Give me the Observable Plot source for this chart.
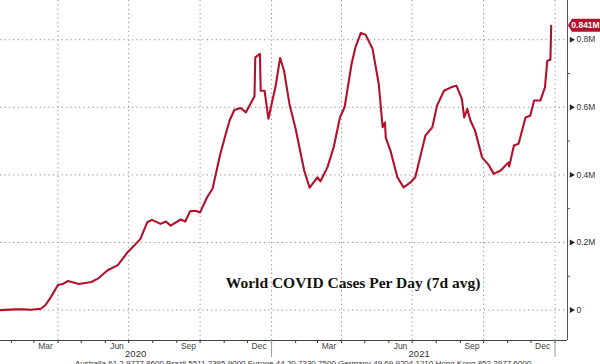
<!DOCTYPE html>
<html>
<head>
<meta charset="utf-8">
<script src="https://cdn.jsdelivr.net/npm/d3@7"></script>
<script src="https://cdn.jsdelivr.net/npm/@observablehq/plot@0.6"></script>
<style>
  html, body { margin: 0; padding: 0; background: #fff; overflow: hidden; }
  #chart { width: 600px; height: 364px; }
</style>
</head>
<body>
<div id="chart"></div>
<script>
// ---- data (millions of cases per day, 7-day average) ----
const dates = [
  "2020-01-18","2020-02-06","2020-02-17","2020-02-26","2020-03-10","2020-03-16","2020-03-23",
  "2020-04-01","2020-04-07","2020-04-14","2020-04-28","2020-05-14","2020-05-23","2020-06-04",
  "2020-06-17","2020-06-30","2020-07-16","2020-07-25","2020-07-31","2020-08-11","2020-08-18",
  "2020-08-24","2020-09-06","2020-09-12","2020-09-18","2020-09-25","2020-10-01","2020-10-10",
  "2020-10-17","2020-10-27","2020-11-03","2020-11-08","2020-11-14","2020-11-22","2020-11-29",
  "2020-12-03","2020-12-09","2020-12-10","2020-12-11","2020-12-17","2020-12-18","2020-12-23",
  "2020-12-28","2021-01-02","2021-01-06","2021-01-12","2021-01-17","2021-01-24","2021-02-01",
  "2021-02-12","2021-02-19","2021-03-01","2021-03-05","2021-03-14","2021-03-22","2021-03-30",
  "2021-04-05","2021-04-14","2021-04-19","2021-04-26","2021-05-02","2021-05-11","2021-05-19",
  "2021-05-24","2021-05-27","2021-05-28","2021-06-03","2021-06-12","2021-06-20","2021-06-29",
  "2021-07-05","2021-07-18","2021-07-27","2021-08-02","2021-08-11","2021-08-20","2021-08-27",
  "2021-09-03","2021-09-06","2021-09-10","2021-09-14","2021-09-20","2021-09-29","2021-10-08",
  "2021-10-14","2021-10-23","2021-11-02","2021-11-03","2021-11-09","2021-11-15","2021-11-24",
  "2021-11-30","2021-12-05","2021-12-13","2021-12-19","2021-12-22","2021-12-26","2021-12-27"
];
const cases = [
  0.000,0.002,0.002,0.001,0.004,0.015,0.039,
  0.074,0.077,0.086,0.077,0.083,0.094,0.118,
  0.133,0.172,0.210,0.260,0.267,0.255,0.262,
  0.250,0.268,0.262,0.292,0.294,0.289,0.334,
  0.359,0.462,0.521,0.561,0.592,0.598,0.585,
  0.602,0.628,0.632,0.748,0.758,0.649,0.649,
  0.566,0.620,0.659,0.746,0.709,0.610,0.536,
  0.413,0.362,0.393,0.381,0.423,0.482,0.570,
  0.600,0.728,0.778,0.820,0.815,0.773,0.669,
  0.541,0.555,0.510,0.472,0.393,0.363,0.378,
  0.393,0.516,0.541,0.605,0.649,0.659,0.664,
  0.625,0.570,0.595,0.561,0.531,0.452,0.428,
  0.403,0.413,0.437,0.425,0.487,0.492,0.570,
  0.575,0.620,0.620,0.659,0.738,0.741,0.841
];
const yTicks = [0, 0.2, 0.4, 0.6, 0.8];
const yTickLabels = ["0", "0.2M", "0.4M", "0.6M", "0.8M"];
const yMinorTicks = [0.1, 0.3, 0.5, 0.7];
const monthLabels = ["Mar","Jun","Sep","Dec","Mar","Jun","Sep","Dec"];
const monthLabelDates = ["2020-03-16","2020-06-16","2020-09-16","2020-12-16","2021-03-16","2021-06-16","2021-09-16","2021-12-16"];
const gridDates = ["2020-04-01","2020-07-01","2020-10-01","2021-01-01","2021-04-01","2021-07-01","2021-10-01","2022-01-01"];
const yearLabels = ["2020", "2021"];
const yearLabelDates = ["2020-07-10", "2021-07-10"];
const yearSeparators = ["2021-01-01", "2022-01-01"];
const xDomain = ["2020-01-18", "2022-01-17"];
const yDomain = [-0.090, 0.916];
const title = "World COVID Cases Per Day (7d avg)";
const titleAt = {date: "2021-04-16", value: 0.081};
const caption = "Australia 61 2 9777 8600 Brazil 5511 2395 9000 Europe 44 20 7330 7500 Germany 49 69 9204 1210 Hong Kong 852 2977 6000";
const lastLabel = "0.841M";

// ---- build ----
const parse = d3.utcParse("%Y-%m-%d");
const data = dates.map((d, i) => ({date: parse(d), value: cases[i]}));
const monthStarts = d3.utcMonths(parse("2020-02-01"), parse("2022-01-02"));
const xEnd = parse(xDomain[1]);
const xStart = parse(xDomain[0]);
const red = "#b3112b";
const tickFont = "'Liberation Sans', Arial, sans-serif";

const plot = Plot.plot({
  width: 600,
  height: 364,
  marginLeft: 0,
  marginRight: 33,
  marginTop: 0,
  marginBottom: 24,
  style: {fontFamily: tickFont, fontSize: "8.5px", color: "#333", background: "#fff", overflow: "visible"},
  x: {type: "utc", domain: [xStart, xEnd], ticks: monthStarts, tickSize: 3, tickFormat: () => "", label: null},
  y: {domain: yDomain, axis: "right", ticks: yTicks, tickSize: 0, tickPadding: 9,
      tickFormat: d => yTickLabels[yTicks.indexOf(d)], label: null},
  marks: [
    Plot.ruleY(yTicks, {stroke: "#8c8c8c", strokeDasharray: "1.2,3.2", strokeWidth: 1}),
    Plot.ruleX(gridDates.map(parse), {stroke: "#8c8c8c", strokeDasharray: "1.2,3.2", strokeWidth: 1}),
    Plot.ruleY([yDomain[0]], {stroke: "#444", strokeWidth: 1}),
    Plot.ruleX([xEnd], {stroke: "#555", strokeWidth: 1}),
    Plot.ruleY(yMinorTicks, {x1: xEnd, x2: d3.utcDay.offset(xEnd, 4), stroke: "#555"}),
    Plot.dot(yTicks, {x: () => xEnd, y: d => d, symbol: "triangle", rotate: 90, r: 2.2, fill: "#222", dx: 4}),
    Plot.ruleX(yearSeparators.map(parse), {y1: yDomain[0], y2: yDomain[0] - 0.05, stroke: "#999"}),
    Plot.text(monthLabelDates.map(parse), {x: d => d, text: (d, i) => monthLabels[i], frameAnchor: "bottom",
      lineAnchor: "middle", dy: 6, fill: "#444"}),
    Plot.text(yearLabelDates.map(parse), {x: d => d, text: (d, i) => yearLabels[i], frameAnchor: "bottom",
      lineAnchor: "middle", dy: 13.5, fill: "#333", fontSize: 9.5}),
    Plot.text([caption], {frameAnchor: "bottom", lineAnchor: "middle", dx: 19, dy: 23, fill: "#333", fontSize: 8}),
    Plot.text([title], {x: () => parse(titleAt.date), y: () => titleAt.value, fontFamily: "'Liberation Serif', serif",
      fontWeight: "bold", fontSize: 15.5, fill: "#111", lineAnchor: "middle"}),
    Plot.line(data, {x: "date", y: "value", stroke: red, strokeWidth: 2.1, strokeLinejoin: "round"})
  ]
});

// end-value tag, positioned with the plot's own scales
const svg = d3.select(plot);
const last = data[data.length - 1];
const ty = plot.scale("y").apply(last.value);
const tx = plot.scale("x").apply(xEnd);
const tag = svg.append("g");
tag.append("path")
  .attr("d", `M${tx + 1},${ty} L${tx + 5},${ty - 6.5} L600,${ty - 6.5} L600,${ty + 6.5} L${tx + 5},${ty + 6.5} Z`)
  .attr("fill", red);
tag.append("text")
  .attr("x", tx + 18.5).attr("y", ty).attr("dy", "0.35em")
  .attr("text-anchor", "middle").attr("fill", "#fff")
  .attr("font-weight", "bold").attr("font-size", 8.5)
  .attr("font-family", tickFont)
  .text(lastLabel);

document.getElementById("chart").append(plot);
</script>
</body>
</html>
